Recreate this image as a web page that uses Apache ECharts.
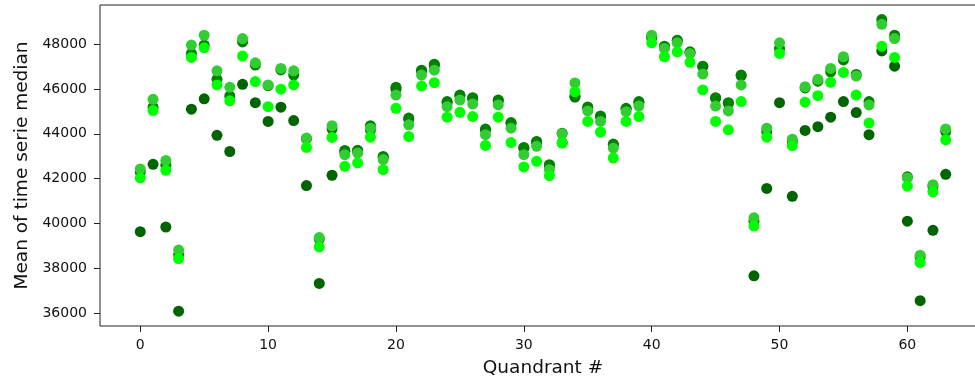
<!DOCTYPE html>
<html>
<head>
<meta charset="utf-8">
<script src="https://cdn.jsdelivr.net/npm/echarts@6/dist/echarts.min.js"></script>
<style>
  html, body { margin: 0; padding: 0; background: #fff; }
  #chart { width: 975px; height: 380px; }
</style>
</head>
<body>
<div id="chart"></div>
<script>
// quadrant index 0..63, one value per quadrant for each series
const darkGreenVals = [
  39630, 42640, 39840, 36080, 45100, 45560, 43930, 43210, 46210, 45390,
  44550, 45190, 44590, 41690, 37320, 42150, 43200, 43250, 44180, 42950,
  46000, 44650, 46800, 47050, 45400, 45700, 45580, 44180, 45480, 44470,
  43360, 43630, 42590, 43600, 45640, 45150, 44770, 43510, 45110, 45400,
  48300, 47880, 48150, 47630, 47000, 45590, 45360, 46600, 37660, 41560,
  45390, 41210, 44150, 44320, 44740, 45440, 44950, 43960, 47700, 47020,
  40100, 36550, 39690, 42190
];
const greenVals = [
  42300, 45190, 42600, 38600, 47590, 47960, 46430, 45690, 48100, 47070,
  46150, 46850, 46620, 43780, 39300, 44210, 43260, 43260, 44360, 42990,
  46080, 44700, 46840, 47110, 45440, 45730, 45610, 44210, 45510, 44500,
  43390, 43660, 42620, 44020, 45680, 45200, 44800, 43540, 45140, 45440,
  48350, 47910, 48180, 47660, 47020, 45610, 45390, 46620, 40100, 44100,
  47810, 43650, 46050, 46350, 46770, 47300, 46650, 45440, 49100, 48400,
  42080, 38500, 41650, 44100
];
const limeGreenVals = [
  42430, 45540, 42810, 38810, 47960, 48400, 46810, 46080, 48250, 47170,
  46180, 46920, 46810, 43810, 39370, 44360, 43070, 43140, 44250, 42850,
  45730, 44400, 46620, 46840, 45210, 45510, 45330, 43960, 45290, 44250,
  43070, 43440, 42400, 44000, 46270, 45020, 44550, 43360, 44990, 45240,
  48400, 47810, 48060, 47590, 46670, 45240, 45020, 46180, 40250, 44250,
  48060, 43760, 46100, 46430, 46920, 47440, 46580, 45290, 48890, 48250,
  42030, 38580, 41730, 44220
];
const limeVals = [
  42030, 45040, 42370, 38430, 47410, 47840, 46180, 45470, 47470, 46330,
  45210, 45990, 46180, 43390, 38950, 43840, 42550, 42700, 43850, 42400,
  45140, 43880, 46130, 46280, 44740, 44960, 44770, 43480, 44740, 43610,
  42520, 42770, 42130, 43590, 45880, 44550, 44080, 42920, 44550, 44770,
  48060, 47440, 47660, 47190, 45960, 44550, 44180, 45440, 39880, 43850,
  47590, 43470, 45410, 45700, 46300, 46740, 45730, 44480, 47910, 47410,
  41660, 38250, 41410, 43730
];
const xTicks = [0, 10, 20, 30, 40, 50, 60];
const yTicks = [36000, 38000, 40000, 42000, 44000, 46000, 48000];

const font = 'DejaVu Sans';
const toPoints = (vals) => vals.map((v, i) => [i, v]);

const scatter = (vals, color) => ({
  type: 'scatter',
  data: toPoints(vals),
  symbolSize: 11,
  itemStyle: { color: color, opacity: 1 },
  emphasis: { disabled: true },
  silent: true,
});

const chart = echarts.init(document.getElementById('chart'), null, { renderer: 'canvas' });
chart.setOption({
  animation: false,
  backgroundColor: '#fff',
  grid: {
    left: 100, right: -11, top: 5, bottom: 54,
    outerBoundsMode: 'none',
    containLabel: false,
    show: true, borderColor: '#222', borderWidth: 1, backgroundColor: 'transparent',
  },
  xAxis: {
    type: 'value',
    min: -3.15,
    max: 66.15,
    name: 'Quandrant #',
    nameLocation: 'middle',
    nameGap: 33,
    nameMoveOverlap: false,
    nameTextStyle: { fontFamily: font, fontSize: 18.5, color: '#111' },
    axisLine: { show: false, onZero: false },
    axisTick: { show: true, inside: false, length: 6, customValues: xTicks, lineStyle: { color: '#222' } },
    axisLabel: {
      customValues: xTicks, margin: 12, fontFamily: font, fontSize: 14, color: '#111',
      formatter: (v) => String(v),
    },
    splitLine: { show: false },
  },
  yAxis: {
    type: 'value',
    min: 35420,
    max: 49750,
    name: 'Mean of time serie median',
    nameLocation: 'middle',
    nameGap: 68,
    nameMoveOverlap: false,
    nameTextStyle: { fontFamily: font, fontSize: 18.5, color: '#111' },
    axisLine: { show: false, onZero: false },
    axisTick: { show: true, inside: false, length: 6, customValues: yTicks, lineStyle: { color: '#222' } },
    axisLabel: {
      customValues: yTicks, margin: 13, fontFamily: font, fontSize: 14, color: '#111',
      formatter: (v) => String(v),
    },
    splitLine: { show: false },
  },
  series: [
    scatter(darkGreenVals, '#006400'),
    scatter(greenVals, '#008000'),
    scatter(limeGreenVals, '#32cd32'),
    scatter(limeVals, '#00ff00'),
  ],
});
</script>
</body>
</html>
